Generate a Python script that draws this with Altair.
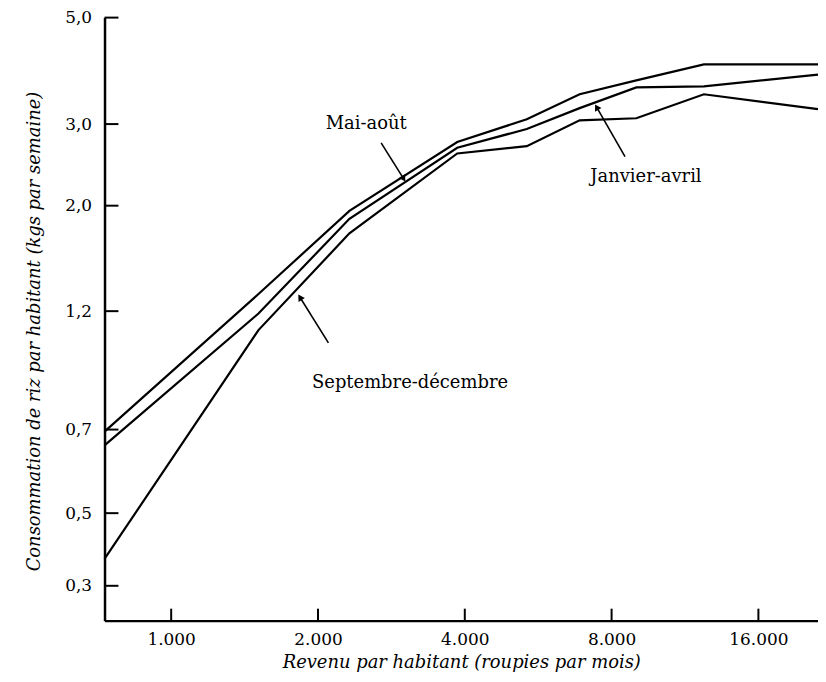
import altair as alt
import pandas as pd

# ---- data ----
income = [730, 1510, 2320, 3860, 5360, 6880, 8990, 12370, 21200]
mai_aout = [0.695, 1.33, 1.96, 2.78, 3.09, 3.56, 3.82, 4.12, 4.12]
janv_avril = [0.662, 1.19, 1.90, 2.71, 2.94, 3.30, 3.69, 3.71, 3.93]
sept_dec = [0.374, 1.12, 1.79, 2.64, 2.73, 3.07, 3.11, 3.56, 3.28]
series_names = ["Mai-août", "Janvier-avril", "Septembre-décembre"]

y_ticks = [0.3, 0.5, 0.7, 1.2, 2.0, 3.0, 5.0]
x_ticks = [1000, 2000, 4000, 8000, 16000]

# uneven (hand-drawn) y axis: piecewise scale through the labelled ticks
y_domain = [0.2, 0.3, 0.5, 0.7, 1.2, 2.0, 3.0, 5.0]
y_range = [606, 571, 498, 414, 295, 189, 107, 0]
x_domain = [730, 21200]

label_income = [2512, 9410, 3089]
label_kg = [3.0, 2.35, 0.897]

arrow_income = [2695, 8523, 2101]
arrow_kg = [2.77, 2.60, 1.066]
arrow_tip_income = [2989, 7474, 1842]
arrow_tip_kg = [2.34, 3.30, 1.298]
arrow_angle = [148, 330, 328]

W, H = 717, 606
FONT = "DejaVu Serif"

rows = []
for name, vals in zip(series_names, [mai_aout, janv_avril, sept_dec]):
    for x, y in zip(income, vals):
        rows.append({"income": x, "kg": y, "serie": name})
lines_df = pd.DataFrame(rows)

xscale = alt.Scale(type="log", base=2, domain=x_domain, nice=False, zero=False)
yscale = alt.Scale(type="linear", domain=y_domain, range=y_range, nice=False, zero=False)

xenc = alt.X(
    "income:Q", scale=xscale,
    axis=alt.Axis(
        values=x_ticks, title="Revenu par habitant (roupies par mois)",
        labelExpr="replace(format(datum.value, ','), ',', '.')",
        ticks=False, tickSize=0, grid=False, labelPadding=11, titlePadding=6,
        domainColor="black", domainWidth=2.5, labelFont=FONT, labelFontSize=17,
        labelColor="black", titleFont=FONT, titleFontSize=18, titleFontStyle="italic",
        titleFontWeight="normal", titleColor="black", labelFlush=False,
    ),
)
yenc = alt.Y(
    "kg:Q", scale=yscale,
    axis=alt.Axis(
        values=y_ticks, title="Consommation de riz par habitant (kgs par semaine)",
        labelExpr="replace(format(datum.value, '.1f'), '.', ',')",
        ticks=False, tickSize=0, grid=False, labelPadding=13, titlePadding=21,
        titleY=315,
        domainColor="black", domainWidth=2.5, labelFont=FONT, labelFontSize=17,
        labelColor="black", titleFont=FONT, titleFontSize=18, titleFontStyle="italic",
        titleFontWeight="normal", titleColor="black", labelFlush=False,
    ),
)

lines = alt.Chart(lines_df).mark_line(strokeWidth=2.2, color="black").encode(
    x=xenc, y=yenc, detail="serie:N"
)

ytick_rules = alt.Chart(pd.DataFrame({"kg": y_ticks})).mark_rule(
    color="black", strokeWidth=2
).encode(y=yenc, x=alt.value(0), x2=alt.value(14))

xtick_rules = alt.Chart(pd.DataFrame({"income": x_ticks})).mark_rule(
    color="black", strokeWidth=2
).encode(x=xenc, y=alt.value(H - 12), y2=alt.value(H))

labels_df = pd.DataFrame({"income": label_income, "kg": label_kg, "txt": series_names})
labels = alt.Chart(labels_df).mark_text(
    font=FONT, fontSize=18, color="black", align="center", baseline="middle"
).encode(x=xenc, y=yenc, text="txt:N")

arrows_df = pd.DataFrame({
    "income": arrow_income, "kg": arrow_kg,
    "income2": arrow_tip_income, "kg2": arrow_tip_kg,
})
arrow_lines = alt.Chart(arrows_df).mark_rule(color="black", strokeWidth=1.6).encode(
    x=xenc, y=yenc, x2="income2:Q", y2="kg2:Q"
)
heads_df = pd.DataFrame({"income": arrow_tip_income, "kg": arrow_tip_kg, "angle": arrow_angle})
arrow_heads = alt.Chart(heads_df).mark_point(
    shape="triangle", filled=True, color="black", size=55, opacity=1
).encode(
    x=xenc, y=yenc,
    angle=alt.Angle("angle:Q", scale=None),
)

chart = alt.layer(
    lines, ytick_rules, xtick_rules, labels, arrow_lines, arrow_heads
).properties(
    width=W, height=H,
    autosize=alt.AutoSizeParams(type="none"),
    padding={"left": 97, "top": 8, "right": 0, "bottom": 56},
    background="white",
).configure_view(stroke=None)

chart.save("out.html", embed_options={"renderer": "svg", "actions": False})
